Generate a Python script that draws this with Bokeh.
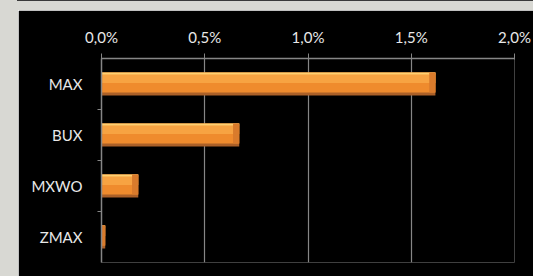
from bokeh.plotting import figure
from bokeh.models import FactorRange, Range1d, CategoricalAxis, FixedTicker, ColumnDataSource, Spacer
from bokeh.transform import dodge
from bokeh.layouts import row, column
from bokeh.embed import file_html
from bokeh.resources import INLINE

categories = ["MAX", "BUX", "MXWO", "ZMAX"]
values = [1.617, 0.667, 0.178, 0.018]
tick_values = [0, 0.5, 1.0, 1.5, 2.0]
tick_labels = ["0,0%", "0,5%", "1,0%", "1,5%", "2,0%"]

FONT = "Lato"
GRAY = "#868686"
PAGE_BG = "#d8d8d3"
TEXT = "#e8e8e8"

src = ColumnDataSource(data=dict(cat=categories, val=values))

p = figure(width=515, height=266,
           y_range=FactorRange(*reversed(categories)),
           x_range=Range1d(0, 2),
           x_axis_location="above", y_axis_location=None,
           output_backend="svg", toolbar_location=None,
           background_fill_color="black", border_fill_color="black",
           outline_line_color=None,
           min_border_left=83, min_border_right=19,
           min_border_top=48, min_border_bottom=14)

# bars with a bevelled look built from stacked layers
p.hbar(y=dodge("cat", 0.0, range=p.y_range), left=0, right="val", height=0.45,
       source=src, fill_color="#ab6028", line_color=None)
p.hbar(y=dodge("cat", 0.03, range=p.y_range), left=0, right="val", height=0.39,
       source=src, fill_color="#ef8b2d", line_color=None)
p.hbar(y=dodge("cat", 0.105, range=p.y_range), left=0, right="val", height=0.17,
       source=src, fill_color="#f7a342", line_color=None)
p.hbar(y=dodge("cat", 0.205, range=p.y_range), left=0, right="val", height=0.04,
       source=src, fill_color="#ffd070", line_color=None)
p.hbar(y=dodge("cat", 0.03, range=p.y_range), left=dodge("val", -0.03), right="val",
       height=0.39, source=src, fill_color="#d97b2c", line_color=None)

# x axis on top
xa = p.xaxis[0]
xa.ticker = FixedTicker(ticks=tick_values)
xa.major_label_overrides = dict(zip(tick_values, tick_labels))
xa.axis_line_color = GRAY
xa.axis_line_width = 1.5
xa.major_tick_line_color = GRAY
xa.major_tick_out = 5
xa.major_tick_in = 1
xa.minor_tick_line_color = None
xa.major_label_text_color = TEXT
xa.major_label_text_font = FONT
xa.major_label_text_font_size = "15px"
xa.major_label_standoff = 8

p.xgrid.grid_line_color = GRAY
p.xgrid.grid_line_width = 1.2
p.xgrid.ticker = FixedTicker(ticks=tick_values)
p.ygrid.grid_line_color = None

# left: boundary ticks (categorical range shifted half a band) + category labels
boundaries = ["b%d" % i for i in range(len(categories) + 1)]
p.extra_y_ranges = {"bounds": FactorRange(*boundaries, range_padding=-0.5,
                                          range_padding_units="absolute")}
tick_axis = CategoricalAxis(y_range_name="bounds",
                            axis_line_color=GRAY, axis_line_width=1.5,
                            major_tick_line_color=GRAY, major_tick_out=4, major_tick_in=0,
                            major_label_text_font_size="0px", major_label_standoff=0,
                            major_label_text_color=None)
p.add_layout(tick_axis, "left")
cat_axis = CategoricalAxis(axis_line_color=None, major_tick_line_color=None,
                           major_label_text_color=TEXT, major_label_text_font=FONT,
                           major_label_text_font_size="15px", major_label_standoff=9)
p.add_layout(cat_axis, "left")

bg = {"background-color": PAGE_BG}
top_line = row(Spacer(width=17, height=1, styles=bg),
               Spacer(width=516, height=1, styles={"background-color": "#3a3a3a"}))
layout = column(top_line,
                Spacer(width=533, height=9, styles=bg),
                row(Spacer(width=18, height=266, styles=bg), p))

open("out.html", "w").write(file_html(layout, INLINE))
